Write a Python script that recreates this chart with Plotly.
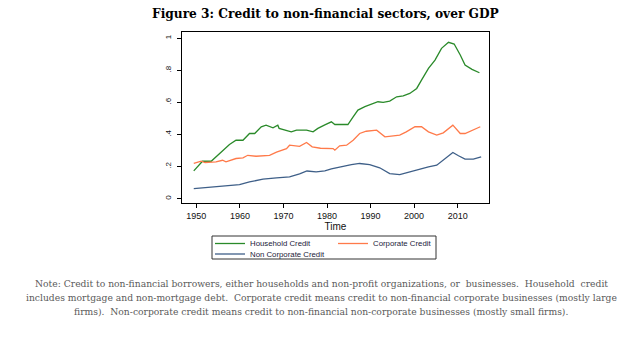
import plotly.graph_objects as go

# ---- data ----
hh_years = [1949.4, 1950.3, 1951.4, 1953.4, 1954.5, 1956.1, 1957.6, 1959.1, 1960.7, 1962.2,
            1963.4, 1964.9, 1966.0, 1967.6, 1968.7, 1969.0, 1971.8, 1973.0, 1975.3, 1976.8,
            1977.9, 1979.5, 1981.0, 1981.8, 1983.3, 1984.8, 1986.0, 1987.1, 1988.7, 1990.2,
            1991.7, 1992.9, 1994.4, 1996.0, 1997.5, 1999.0, 2000.6, 2001.7, 2003.3, 2004.8,
            2006.3, 2007.9, 2009.2, 2010.6, 2011.7, 2013.3, 2015.0]
hh_values = [0.173, 0.198, 0.233, 0.233, 0.26, 0.30, 0.337, 0.364, 0.364, 0.406,
             0.406, 0.448, 0.458, 0.441, 0.458, 0.438, 0.416, 0.427, 0.427, 0.416,
             0.438, 0.46, 0.479, 0.462, 0.464, 0.462, 0.51, 0.552, 0.573, 0.587,
             0.604, 0.60, 0.608, 0.635, 0.641, 0.656, 0.687, 0.739, 0.812, 0.864,
             0.937, 0.975, 0.964, 0.896, 0.833, 0.806, 0.785]

corp_years = [1949.4, 1951.1, 1952.0, 1954.5, 1956.0, 1956.8, 1959.1, 1960.7, 1961.8, 1963.7,
              1966.8, 1968.4, 1970.7, 1971.4, 1973.7, 1975.3, 1976.6, 1978.5, 1981.4, 1981.8,
              1982.9, 1984.5, 1986.0, 1987.5, 1989.0, 1991.4, 1993.3, 1994.8, 1996.7, 1998.2,
              2000.2, 2001.7, 2003.3, 2005.2, 2006.7, 2008.9, 2010.6, 2011.7, 2013.6, 2015.2]
corp_values = [0.219, 0.233, 0.225, 0.229, 0.239, 0.229, 0.25, 0.254, 0.27, 0.264,
               0.27, 0.29, 0.312, 0.333, 0.326, 0.35, 0.323, 0.314, 0.312, 0.302,
               0.329, 0.333, 0.364, 0.406, 0.42, 0.427, 0.385, 0.391, 0.396, 0.416,
               0.448, 0.448, 0.416, 0.396, 0.41, 0.458, 0.406, 0.406, 0.427, 0.448]

nc_years = [1949.4, 1952.0, 1956.0, 1959.9, 1962.2, 1965.3, 1968.4, 1971.4, 1973.7, 1975.4,
            1977.5, 1979.5, 1981.0, 1983.7, 1985.6, 1987.5, 1989.8, 1992.1, 1994.4, 1996.7,
            1999.0, 2001.3, 2003.3, 2005.2, 2007.1, 2008.9, 2010.2, 2011.7, 2013.6, 2015.4]
nc_values = [0.0625, 0.069, 0.079, 0.0875, 0.104, 0.121, 0.129, 0.135, 0.154, 0.172,
             0.167, 0.173, 0.186, 0.204, 0.212, 0.219, 0.212, 0.192, 0.156, 0.15,
             0.167, 0.183, 0.198, 0.208, 0.25, 0.2875, 0.267, 0.246, 0.246, 0.26]

series_names = ["Household Credit", "Corporate Credit", "Non Corporate Credit"]
series_colors = ["#2a8a2a", "#ff7a4a", "#3e5f88"]

x_tickvals = [1950, 1960, 1970, 1980, 1990, 2000, 2010]
y_tickvals = [0, 0.2, 0.4, 0.6, 0.8, 1.0]
y_ticktext = ["0", ".2", ".4", ".6", ".8", "1"]

title_text = "Figure 3: Credit to non-financial sectors, over GDP"
note_lines = [
    "Note: Credit to non-financial borrowers, either households and non-profit organizations, or  businesses.  Household  credit",
    "includes mortgage and non-mortgage debt.  Corporate credit means credit to non-financial corporate businesses (mostly large",
    "firms).  Non-corporate credit means credit to non-financial non-corporate businesses (mostly small firms).",
]

# ---- layout geometry (pixels) ----
W, H = 642, 363
L, R, T, B = 182, 489, 32, 203
PW, PH = R - L, B - T


def px(x):
    return (x - L) / PW


def py(y):
    return (B - y) / PH


fig = go.Figure()
for xs, ys, name, col in zip([hh_years, corp_years, nc_years],
                             [hh_values, corp_values, nc_values],
                             series_names, series_colors):
    fig.add_trace(go.Scatter(x=xs, y=ys, mode="lines", name=name,
                             line=dict(color=col, width=1.3), showlegend=False))

fig.update_layout(
    width=W, height=H,
    margin=dict(l=L, r=W - R, t=T, b=H - B, pad=0),
    paper_bgcolor="white", plot_bgcolor="white",
    font=dict(family="Liberation Sans, Arial, sans-serif", color="#111111"),
    showlegend=False,
)
fig.update_xaxes(range=[1946.7, 2017.2], tickvals=x_tickvals, ticks="outside", ticklen=4,
                 tickcolor="black", showgrid=False, zeroline=False, showline=True,
                 linecolor="black", linewidth=1, mirror=True,
                 tickfont=dict(size=9, family="Liberation Sans, Arial, sans-serif"),
                 title=dict(text="Time", font=dict(size=10), standoff=2))
fig.update_yaxes(range=[-0.0275, 1.039], tickvals=y_tickvals, ticktext=y_ticktext,
                 ticks="outside", ticklen=4, tickcolor="black", tickangle=-90,
                 ticklabelstandoff=3,
                 showgrid=False, zeroline=False, showline=True, linecolor="black",
                 linewidth=1, mirror=True,
                 tickfont=dict(size=8, family="Liberation Sans, Arial, sans-serif"))

# title
fig.add_annotation(text="<b>" + title_text + "</b>", xref="paper", yref="paper",
                   x=px(325), y=py(14), xanchor="center", yanchor="middle", showarrow=False,
                   font=dict(family="DejaVu Serif, Georgia, serif", size=12.2, color="black"))

# legend (manual, matching the boxed two-column layout)
fig.add_shape(type="rect", xref="paper", yref="paper", x0=px(212), x1=px(436),
              y0=py(259), y1=py(236), line=dict(color="#333333", width=1), fillcolor="white")
leg_pos = [(215, 243.5), (338, 243.5), (215, 254)]
for (lx, ly), name, col in zip(leg_pos, series_names, series_colors):
    fig.add_shape(type="line", xref="paper", yref="paper", x0=px(lx), x1=px(lx + 30),
                  y0=py(ly), y1=py(ly), line=dict(color=col, width=1.3))
    fig.add_annotation(text=name, xref="paper", yref="paper", x=px(lx + 33), y=py(ly),
                       xanchor="left", yanchor="middle", showarrow=False,
                       font=dict(size=7.8, color="#22223a",
                                 family="Liberation Sans, Arial, sans-serif"))

# note
for i, line in enumerate(note_lines):
    fig.add_annotation(text=line, xref="paper", yref="paper", x=px(321), y=py(283 + 14 * i),
                       xanchor="center", yanchor="middle", showarrow=False,
                       font=dict(size=9.2, color="#5a5a5a",
                                 family="DejaVu Serif, Georgia, serif"))

fig.write_html("out.html", config={"displayModeBar": False},
               post_script="document.body.style.margin='0';document.body.style.padding='0';")
